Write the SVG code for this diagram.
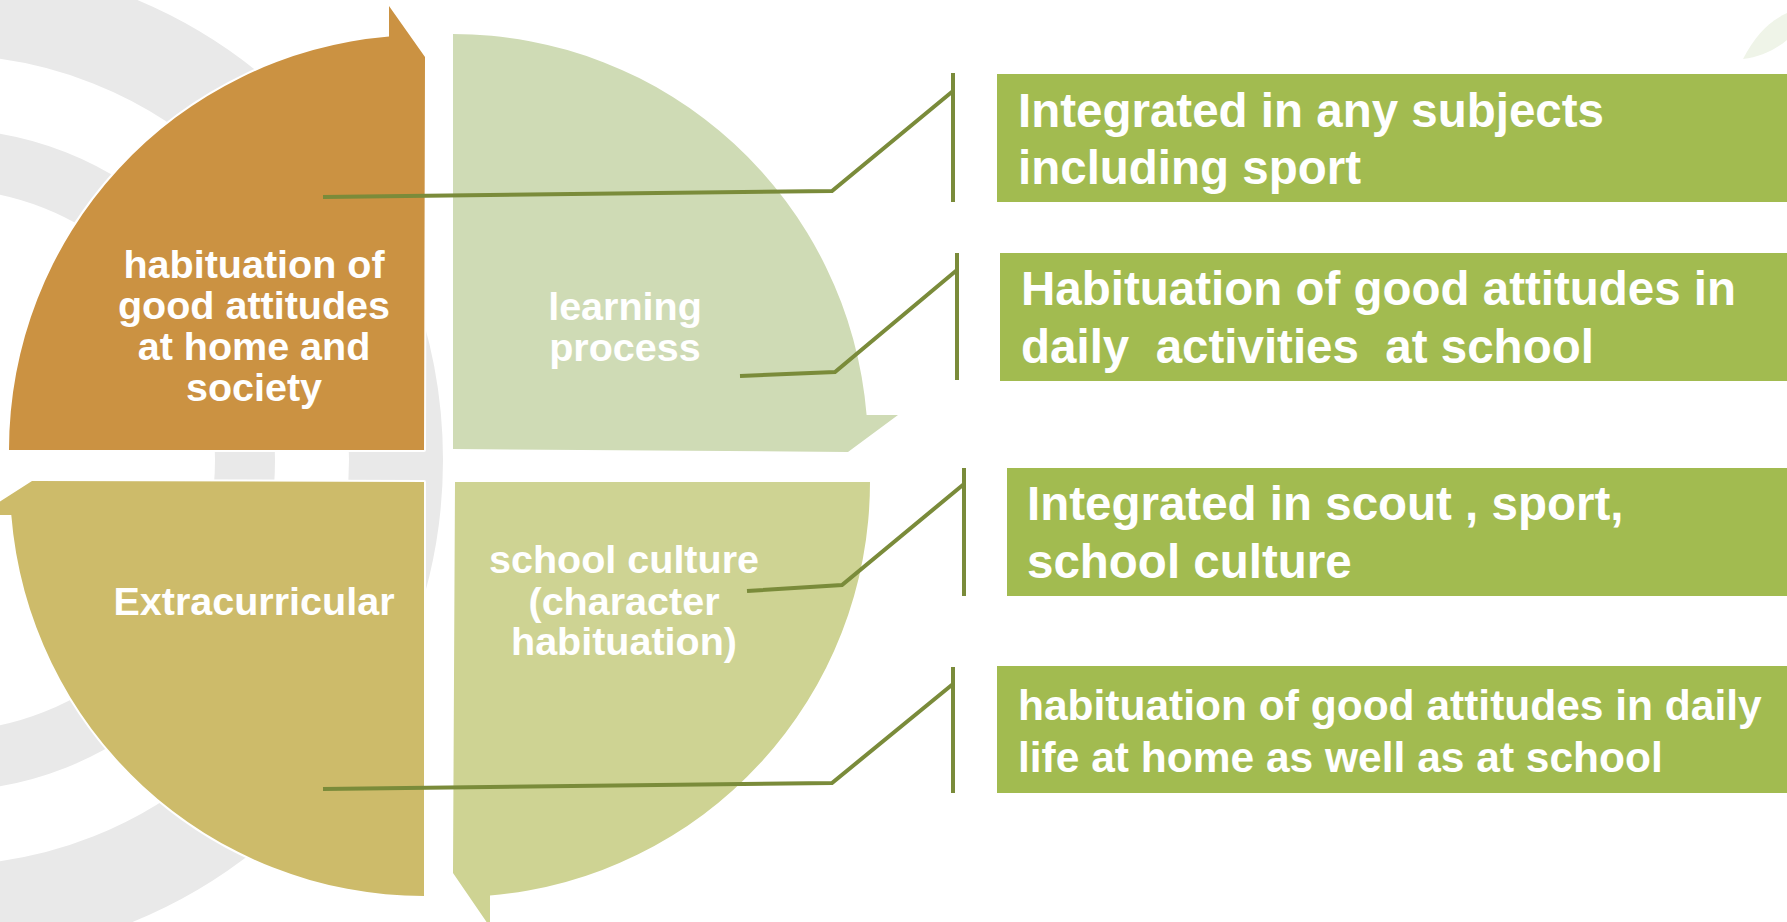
<svg xmlns="http://www.w3.org/2000/svg" width="1787" height="922" viewBox="0 0 1787 922">
<style>
.q{stroke:#fff;stroke-width:4;paint-order:stroke;stroke-linejoin:round}
.qt{font-family:"Liberation Sans",Arial,sans-serif;font-weight:bold;font-size:39.5px;fill:#fff;text-anchor:middle}
.bx{fill:#A2BB50}
.bt{font-family:"Liberation Sans",Arial,sans-serif;font-weight:bold;font-size:47.5px;fill:#fff;white-space:pre}
.con{fill:none;stroke:#7A8B3A;stroke-width:4}
.ring{fill:none;stroke:#E9E9E9}
</style>
<rect width="1787" height="922" fill="#fff"/>
<g id="background">
<circle class="ring" cx="-56" cy="460" r="301" stroke-width="60"/>
<circle class="ring" cx="-56" cy="460" r="452" stroke-width="94"/>
<path d="M1743,59 C1755,36 1768,22 1787,13 L1787,40 C1775,50 1760,57 1743,59 Z" fill="#EFF4E8"/>
</g>
<g id="q-home">
<path class="q" fill="#CB9242" d="M424,450 L9,450 A415,415 0 0 1 389,36.5 L389,6 L425,57 Z"/>
<text class="qt"><tspan x="254" y="278">habituation of</tspan><tspan x="254" y="319">good attitudes</tspan><tspan x="254" y="360">at home and</tspan><tspan x="254" y="401">society</tspan></text>
</g>
<g id="q-learning">
<path class="q" fill="#CFDBB5" d="M453,34 A415,415 0 0 1 866.6,415 L898,415 L848,452 L453,449 Z"/>
<text class="qt"><tspan x="625" y="320">learning</tspan><tspan x="625" y="361">process</tspan></text>
</g>
<g id="q-extra">
<path class="q" fill="#CDBB6A" d="M424,482 L32,481 L-21,515 L11.3,515 A414,414 0 0 0 424,896 Z"/>
<text class="qt" x="254" y="615">Extracurricular</text>
</g>
<g id="q-culture">
<path class="q" fill="#CED393" d="M455,482 L870,482 A415,415 0 0 1 490,895.5 L490,927 L453,873 Z"/>
<text class="qt"><tspan x="624" y="573">school culture</tspan><tspan x="624" y="615">(character</tspan><tspan x="624" y="655">habituation)</tspan></text>
</g>
<g id="box1">
<rect class="bx" x="997" y="74" width="790" height="128"/>
<text class="bt"><tspan x="1018" y="127">Integrated in any subjects</tspan><tspan x="1018" y="184">including sport</tspan></text>
</g>
<g id="box2">
<rect class="bx" x="1000" y="253" width="787" height="128"/>
<text class="bt"><tspan x="1021" y="305">Habituation of good attitudes in</tspan><tspan x="1021" y="363">daily  activities  at school</tspan></text>
</g>
<g id="box3">
<rect class="bx" x="1007" y="468" width="780" height="128"/>
<text class="bt"><tspan x="1027" y="520">Integrated in scout , sport,</tspan><tspan x="1027" y="578">school culture</tspan></text>
</g>
<g id="box4">
<rect class="bx" x="997" y="666" width="790" height="127"/>
<text class="bt" style="font-size:42.5px"><tspan x="1018" y="720">habituation of good attitudes in daily</tspan><tspan x="1018" y="772">life at home as well as at school</tspan></text>
</g>
<g id="connectors">
<polyline class="con" points="323,197 832,191 953,91"/>
<line class="con" x1="953" y1="73" x2="953" y2="202"/>
<polyline class="con" points="740,376 835,372 957,270"/>
<line class="con" x1="957" y1="253" x2="957" y2="380"/>
<polyline class="con" points="747,591 842,585 964,484"/>
<line class="con" x1="964" y1="468" x2="964" y2="596"/>
<polyline class="con" points="323,789 832,783 953,684"/>
<line class="con" x1="953" y1="667" x2="953" y2="793"/>
</g>
</svg>
